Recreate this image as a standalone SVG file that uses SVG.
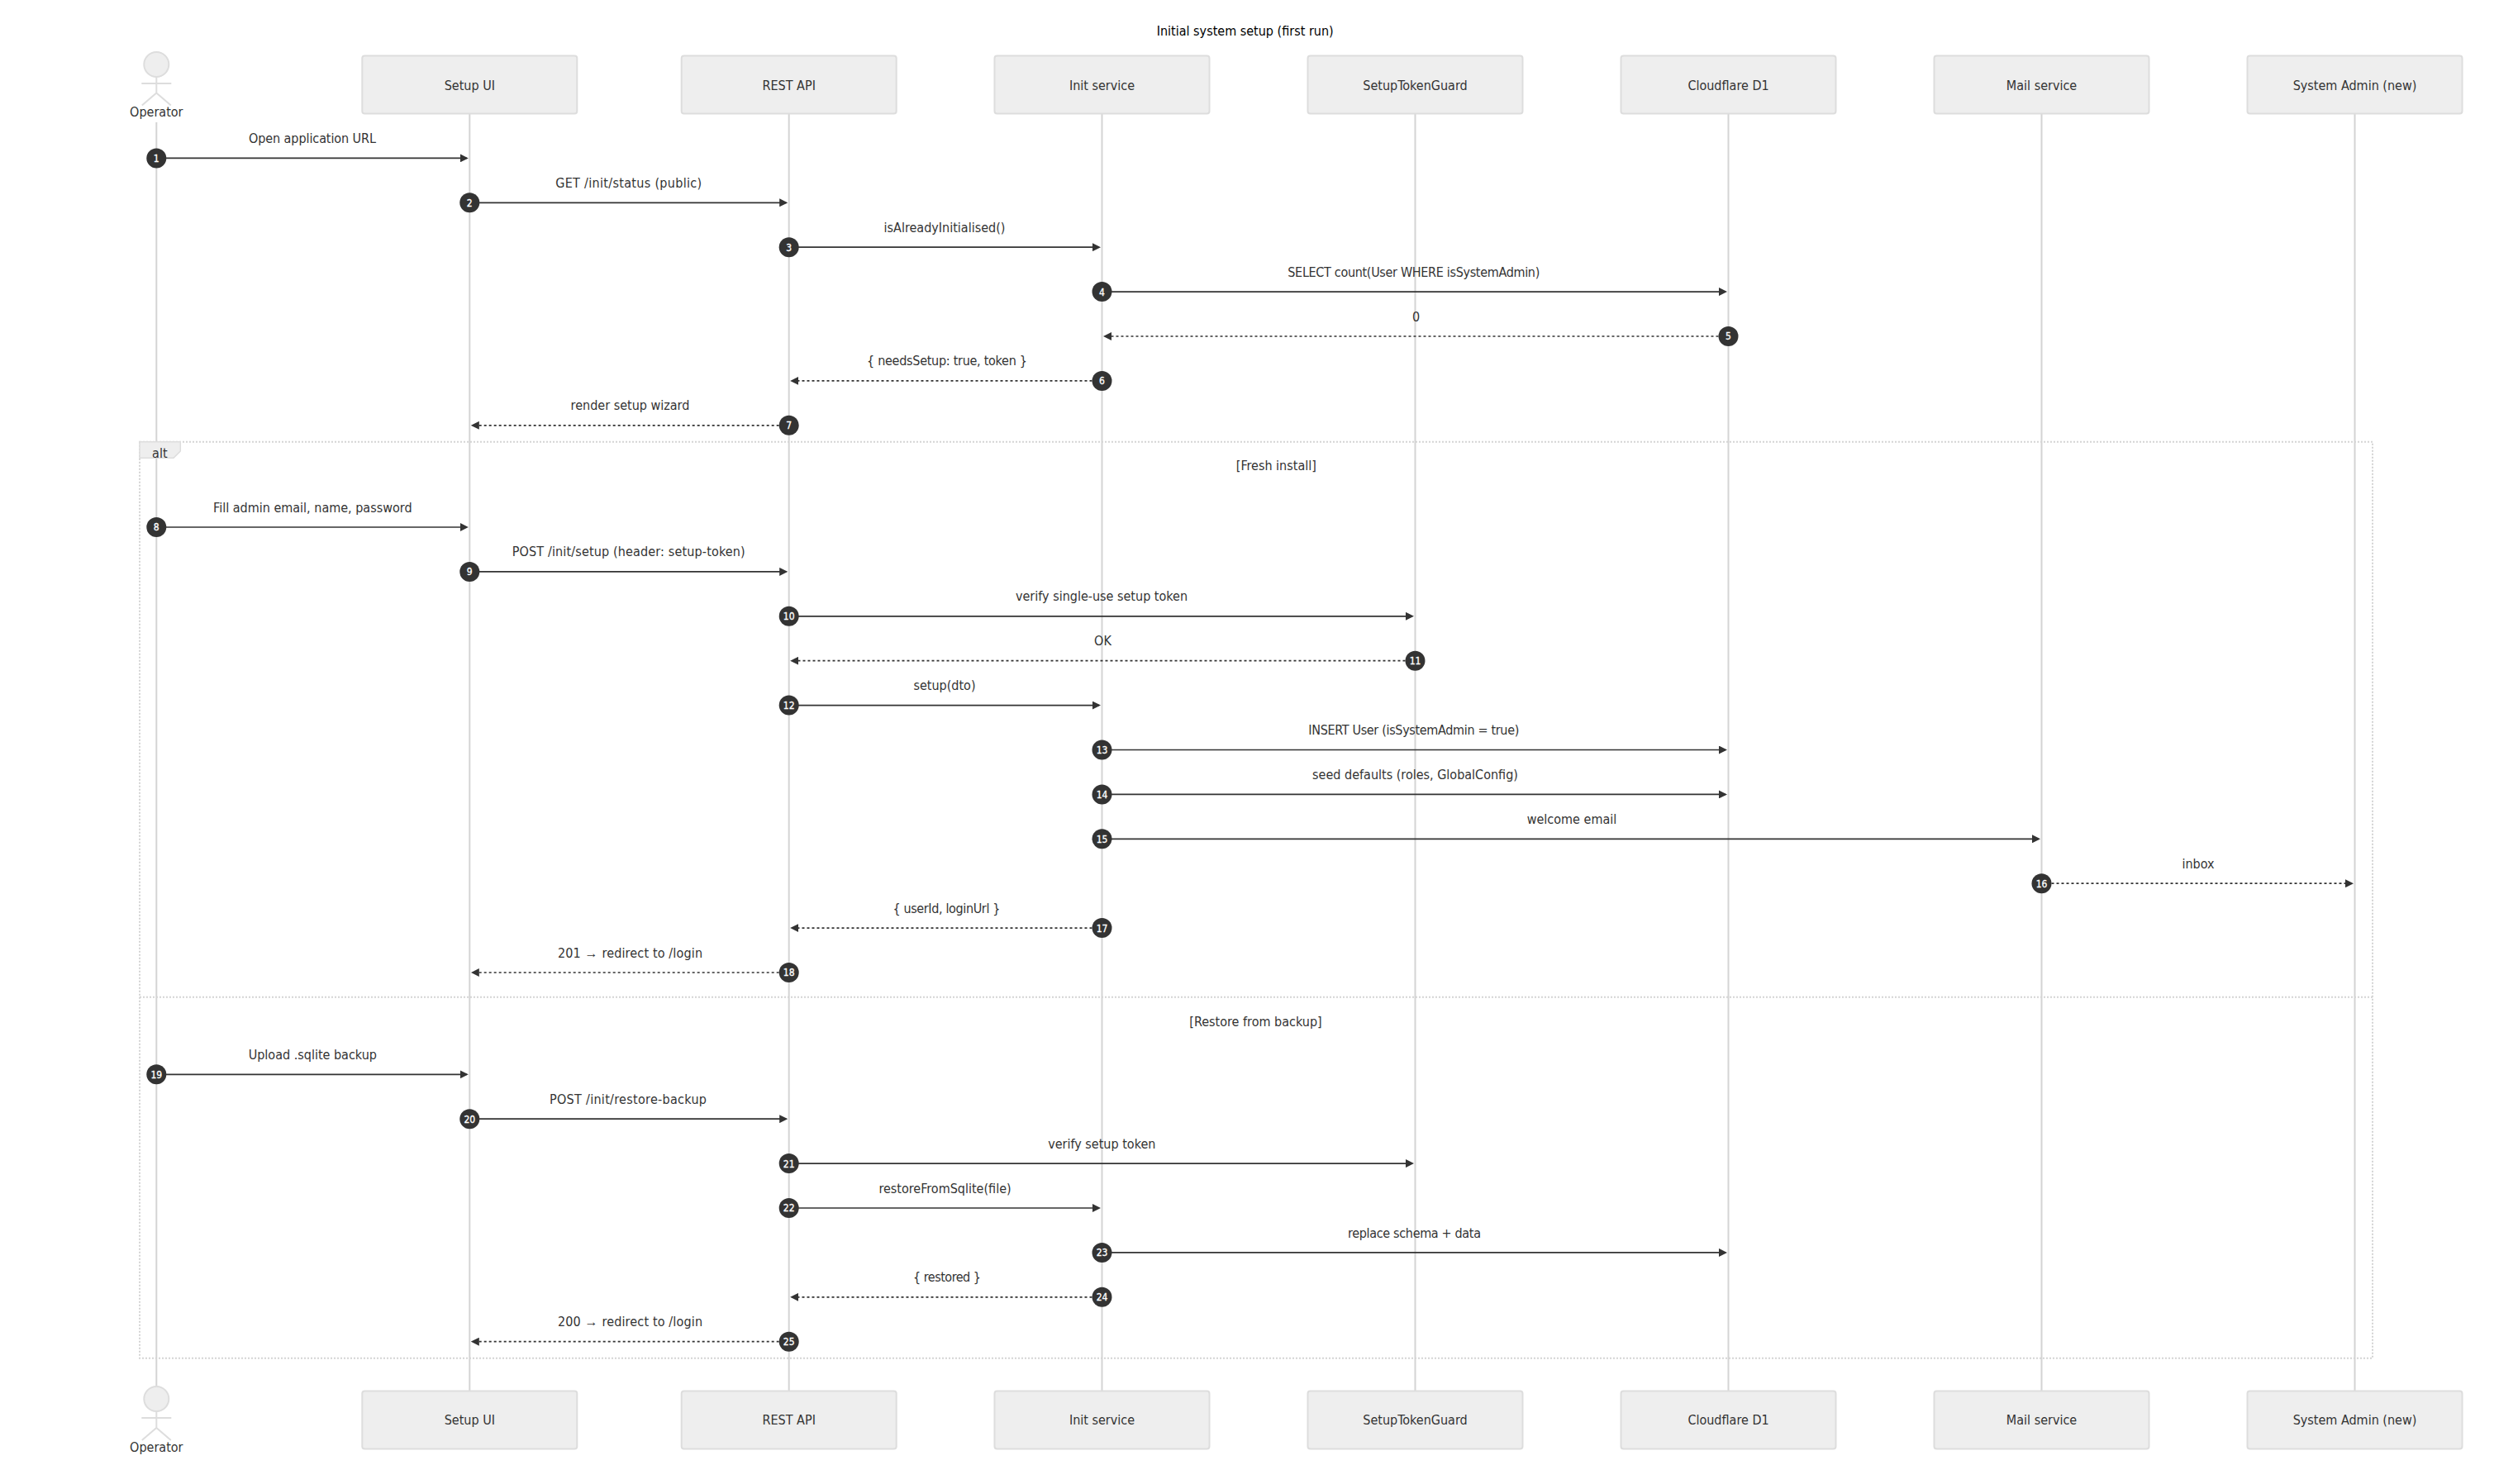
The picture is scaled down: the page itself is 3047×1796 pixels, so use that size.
<svg xmlns="http://www.w3.org/2000/svg" width="3047" height="1796" viewBox="0 0 3047 1796">
<defs>
<style>
text{font-family:"DejaVu Sans Condensed","DejaVu Sans",sans-serif;font-size:16px;fill:#333;text-anchor:middle}
.title{fill:#000}
.box{fill:#eee;stroke:#ddd;stroke-width:2}
.life{stroke:#d4d4d4;stroke-width:2}
.stick{fill:none;stroke:#ddd;stroke-width:2}
.head{fill:#eee;stroke:#ddd;stroke-width:2}
.frame{stroke:#d4d4d4;stroke-width:2;stroke-dasharray:2 2;fill:none}
.tag{fill:#eee;stroke:#ddd;stroke-width:1.5}
.m{stroke:#333;stroke-width:1.7;marker-end:url(#arrow)}
.d{stroke-dasharray:3 3}
.badge{fill:#333}
.ar{font-family:"Noto Sans",sans-serif}
text.n{fill:#fff;font-size:12px;stroke:#fff;stroke-width:.3}
</style>
<marker id="arrow" markerUnits="userSpaceOnUse" viewBox="0 0 10 10" refX="8" refY="5" markerWidth="10" markerHeight="10" orient="auto"><path d="M0 0L10 5L0 10z" fill="#333"/></marker>
</defs>
<rect width="3047" height="1796" fill="#fff"/>
<text class="title" x="1506.7" y="43">Initial system setup (first run)</text>
<g id="lifelines">
<line class="life" x1="189.3" y1="148" x2="189.3" y2="1678"/>
<line class="life" x1="568.3" y1="137.5" x2="568.3" y2="1683"/>
<line class="life" x1="954.7" y1="137.5" x2="954.7" y2="1683"/>
<line class="life" x1="1333.5" y1="137.5" x2="1333.5" y2="1683"/>
<line class="life" x1="1712.5" y1="137.5" x2="1712.5" y2="1683"/>
<line class="life" x1="2091.5" y1="137.5" x2="2091.5" y2="1683"/>
<line class="life" x1="2470.5" y1="137.5" x2="2470.5" y2="1683"/>
<line class="life" x1="2849.5" y1="137.5" x2="2849.5" y2="1683"/>
</g>
<g id="operator-top"><ellipse class="head" cx="189.3" cy="78" rx="15" ry="15"/><path class="stick" d="M189.3 93V112.5M171.3 101H207.3M189.3 112.5L171.8 127.5M189.3 112.5L206.8 127.5"/><text x="189.3" y="141">Operator</text></g>
<g id="setup-ui-top"><rect class="box" x="438.3" y="67.5" width="260" height="70" rx="3"/><text x="568.3" y="108.5">Setup UI</text></g>
<g id="rest-api-top"><rect class="box" x="824.7" y="67.5" width="260" height="70" rx="3"/><text x="954.7" y="108.5">REST API</text></g>
<g id="init-service-top"><rect class="box" x="1203.5" y="67.5" width="260" height="70" rx="3"/><text x="1333.5" y="108.5">Init service</text></g>
<g id="setup-token-guard-top"><rect class="box" x="1582.5" y="67.5" width="260" height="70" rx="3"/><text x="1712.5" y="108.5">SetupTokenGuard</text></g>
<g id="cloudflare-d1-top"><rect class="box" x="1961.5" y="67.5" width="260" height="70" rx="3"/><text x="2091.5" y="108.5">Cloudflare D1</text></g>
<g id="mail-service-top"><rect class="box" x="2340.5" y="67.5" width="260" height="70" rx="3"/><text x="2470.5" y="108.5">Mail service</text></g>
<g id="system-admin-top"><rect class="box" x="2719.5" y="67.5" width="260" height="70" rx="3"/><text x="2849.5" y="108.5">System Admin (new)</text></g>
<g id="operator-bottom"><ellipse class="head" cx="189.3" cy="1693" rx="15" ry="15"/><path class="stick" d="M189.3 1708V1728M171.3 1716H207.3M189.3 1728L171.8 1743M189.3 1728L206.8 1743"/><text x="189.3" y="1757">Operator</text></g>
<g id="setup-ui-bottom"><rect class="box" x="438.3" y="1683.5" width="260" height="70" rx="3"/><text x="568.3" y="1723.7">Setup UI</text></g>
<g id="rest-api-bottom"><rect class="box" x="824.7" y="1683.5" width="260" height="70" rx="3"/><text x="954.7" y="1723.7">REST API</text></g>
<g id="init-service-bottom"><rect class="box" x="1203.5" y="1683.5" width="260" height="70" rx="3"/><text x="1333.5" y="1723.7">Init service</text></g>
<g id="setup-token-guard-bottom"><rect class="box" x="1582.5" y="1683.5" width="260" height="70" rx="3"/><text x="1712.5" y="1723.7">SetupTokenGuard</text></g>
<g id="cloudflare-d1-bottom"><rect class="box" x="1961.5" y="1683.5" width="260" height="70" rx="3"/><text x="2091.5" y="1723.7">Cloudflare D1</text></g>
<g id="mail-service-bottom"><rect class="box" x="2340.5" y="1683.5" width="260" height="70" rx="3"/><text x="2470.5" y="1723.7">Mail service</text></g>
<g id="system-admin-bottom"><rect class="box" x="2719.5" y="1683.5" width="260" height="70" rx="3"/><text x="2849.5" y="1723.7">System Admin (new)</text></g>
<g id="alt-frame">
<rect class="frame" x="169" y="534.7" width="2702" height="1109"/>
<line class="frame" x1="169" y1="1206.7" x2="2871" y2="1206.7"/>
<path class="tag" d="M169 534.7H218.3V546L210 554.3H169z"/>
<text x="193.3" y="554">alt</text>
<text x="1544.3" y="568.5">[Fresh install]</text>
<text x="1519.5" y="1241.5">[Restore from backup]</text>
</g>
<g id="connectors">
<text x="378" y="173.4" textLength="154">Open application URL</text><line class="m" x1="189.3" y1="191.4" x2="564.8" y2="191.4"/>
<text x="760.7" y="227.3" textLength="177">GET /init/status (public)</text><line class="m" x1="568.3" y1="245.3" x2="951.2" y2="245.3"/>
<text x="1143" y="281.2">isAlreadyInitialised()</text><line class="m" x1="954.7" y1="299.2" x2="1330" y2="299.2"/>
<text x="1710.8" y="335.1" textLength="305">SELECT count(User WHERE isSystemAdmin)</text><line class="m" x1="1333.5" y1="353.1" x2="2088" y2="353.1"/>
<text x="1713.5" y="388.5">0</text><line class="m d" x1="2091.5" y1="407" x2="1337" y2="407"/>
<text x="1146" y="442.4" textLength="194">{ needsSetup: true, token }</text><line class="m d" x1="1333.5" y1="460.9" x2="958.2" y2="460.9"/>
<text x="762.5" y="496.3">render setup wizard</text><line class="m d" x1="954.7" y1="514.8" x2="571.8" y2="514.8"/>
<text x="378.3" y="620">Fill admin email, name, password</text><line class="m" x1="189.3" y1="638" x2="564.8" y2="638"/>
<text x="760.7" y="673.4" textLength="282">POST /init/setup (header: setup-token)</text><line class="m" x1="568.3" y1="691.9" x2="951.2" y2="691.9"/>
<text x="1333" y="727.4">verify single-use setup token</text><line class="m" x1="954.7" y1="745.8" x2="1709" y2="745.8"/>
<text x="1334.5" y="781.2">OK</text><line class="m d" x1="1712.5" y1="799.7" x2="958.2" y2="799.7"/>
<text x="1143" y="835.2">setup(dto)</text><line class="m" x1="954.7" y1="853.6" x2="1330" y2="853.6"/>
<text x="1710.8" y="889" textLength="255">INSERT User (isSystemAdmin = true)</text><line class="m" x1="1333.5" y1="907.5" x2="2088" y2="907.5"/>
<text x="1712.5" y="943.4">seed defaults (roles, GlobalConfig)</text><line class="m" x1="1333.5" y1="961.4" x2="2088" y2="961.4"/>
<text x="1902" y="997.3">welcome email</text><line class="m" x1="1333.5" y1="1015.3" x2="2467" y2="1015.3"/>
<text x="2660" y="1050.8">inbox</text><line class="m d" x1="2470.5" y1="1069.2" x2="2846" y2="1069.2"/>
<text x="1145.4" y="1104.7" textLength="130">{ userId, loginUrl }</text><line class="m d" x1="1333.5" y1="1123.1" x2="958.2" y2="1123.1"/>
<text x="762.5" y="1158.6" textLength="175">201 <tspan class="ar">→</tspan> redirect to /login</text><line class="m d" x1="954.7" y1="1177" x2="571.8" y2="1177"/>
<text x="378.3" y="1282">Upload .sqlite backup</text><line class="m" x1="189.3" y1="1300.3" x2="564.8" y2="1300.3"/>
<text x="760" y="1335.8" textLength="190">POST /init/restore-backup</text><line class="m" x1="568.3" y1="1354.2" x2="951.2" y2="1354.2"/>
<text x="1333.3" y="1389.7">verify setup token</text><line class="m" x1="954.7" y1="1408.1" x2="1709" y2="1408.1"/>
<text x="1143.5" y="1443.5">restoreFromSqlite(file)</text><line class="m" x1="954.7" y1="1462" x2="1330" y2="1462"/>
<text x="1711.5" y="1497.5" textLength="161">replace schema + data</text><line class="m" x1="1333.5" y1="1515.9" x2="2088" y2="1515.9"/>
<text x="1146" y="1551.3" textLength="82">{ restored }</text><line class="m d" x1="1333.5" y1="1569.8" x2="958.2" y2="1569.8"/>
<text x="762.5" y="1605.3" textLength="175">200 <tspan class="ar">→</tspan> redirect to /login</text><line class="m d" x1="954.7" y1="1623.7" x2="571.8" y2="1623.7"/>
</g>
<g id="badges">
<circle class="badge" cx="189.3" cy="191.4" r="12"/><text class="n" x="189.3" y="195.8">1</text>
<circle class="badge" cx="568.3" cy="245.3" r="12"/><text class="n" x="568.3" y="249.7">2</text>
<circle class="badge" cx="954.7" cy="299.2" r="12"/><text class="n" x="954.7" y="303.6">3</text>
<circle class="badge" cx="1333.5" cy="353.1" r="12"/><text class="n" x="1333.5" y="357.5">4</text>
<circle class="badge" cx="2091.5" cy="407" r="12"/><text class="n" x="2091.5" y="411.4">5</text>
<circle class="badge" cx="1333.5" cy="460.9" r="12"/><text class="n" x="1333.5" y="465.3">6</text>
<circle class="badge" cx="954.7" cy="514.8" r="12"/><text class="n" x="954.7" y="519.2">7</text>
<circle class="badge" cx="189.3" cy="638" r="12"/><text class="n" x="189.3" y="642.4">8</text>
<circle class="badge" cx="568.3" cy="691.9" r="12"/><text class="n" x="568.3" y="696.3">9</text>
<circle class="badge" cx="954.7" cy="745.8" r="12"/><text class="n" x="954.7" y="750.2">10</text>
<circle class="badge" cx="1712.5" cy="799.7" r="12"/><text class="n" x="1712.5" y="804.1">11</text>
<circle class="badge" cx="954.7" cy="853.6" r="12"/><text class="n" x="954.7" y="858">12</text>
<circle class="badge" cx="1333.5" cy="907.5" r="12"/><text class="n" x="1333.5" y="911.9">13</text>
<circle class="badge" cx="1333.5" cy="961.4" r="12"/><text class="n" x="1333.5" y="965.8">14</text>
<circle class="badge" cx="1333.5" cy="1015.3" r="12"/><text class="n" x="1333.5" y="1019.7">15</text>
<circle class="badge" cx="2470.5" cy="1069.2" r="12"/><text class="n" x="2470.5" y="1073.6">16</text>
<circle class="badge" cx="1333.5" cy="1123.1" r="12"/><text class="n" x="1333.5" y="1127.5">17</text>
<circle class="badge" cx="954.7" cy="1177" r="12"/><text class="n" x="954.7" y="1181.4">18</text>
<circle class="badge" cx="189.3" cy="1300.3" r="12"/><text class="n" x="189.3" y="1304.7">19</text>
<circle class="badge" cx="568.3" cy="1354.2" r="12"/><text class="n" x="568.3" y="1358.6">20</text>
<circle class="badge" cx="954.7" cy="1408.1" r="12"/><text class="n" x="954.7" y="1412.5">21</text>
<circle class="badge" cx="954.7" cy="1462" r="12"/><text class="n" x="954.7" y="1466.4">22</text>
<circle class="badge" cx="1333.5" cy="1515.9" r="12"/><text class="n" x="1333.5" y="1520.3">23</text>
<circle class="badge" cx="1333.5" cy="1569.8" r="12"/><text class="n" x="1333.5" y="1574.2">24</text>
<circle class="badge" cx="954.7" cy="1623.7" r="12"/><text class="n" x="954.7" y="1628.1">25</text>
</g>
</svg>
